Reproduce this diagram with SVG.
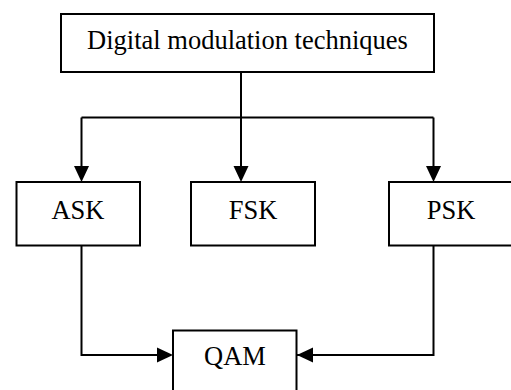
<svg xmlns="http://www.w3.org/2000/svg" width="511" height="390" viewBox="0 0 511 390">
  <style>
    .box { fill: #ffffff; stroke: #000000; stroke-width: 2; }
    .label { font-family: "Liberation Serif", "Times New Roman", serif; font-size: 26.5px; fill: #000000; text-anchor: middle; }
    .wire { fill: none; stroke: #000000; stroke-width: 2; }
    .head { fill: #000000; }
  </style>
  <rect width="511" height="390" fill="#ffffff"/>

  <g id="connectors">
    <!-- trunk from the top box and the distribution bar -->
    <path class="wire" d="M241 72 V117.5 M81.5 117.5 H433.5"/>
    <!-- drops to the three keying boxes -->
    <path class="wire" d="M81.5 117.5 V167 M241 117.5 V167 M433.5 117.5 V167"/>
    <polygon class="head" points="74,166 89,166 81.5,182"/>
    <polygon class="head" points="233.5,166 248.5,166 241,182"/>
    <polygon class="head" points="426,166 441,166 433.5,182"/>
    <!-- ASK and PSK feed QAM -->
    <path class="wire" d="M81.5 245 V355 H158 M433.5 245 V355 H297"/>
    <polygon class="head" points="157,347.5 157,362.5 173,355"/>
    <polygon class="head" points="313,347.5 313,362.5 297,355"/>
  </g>

  <g id="node-digital">
    <rect class="box" x="61" y="14" width="373" height="58"/>
    <text class="label" x="247.5" y="48.5">Digital modulation techniques</text>
  </g>
  <g id="node-ask">
    <rect class="box" x="16.5" y="182" width="123.5" height="63.5"/>
    <text class="label" x="78" y="219">ASK</text>
  </g>
  <g id="node-fsk">
    <rect class="box" x="191" y="182" width="124" height="63.5"/>
    <text class="label" x="253" y="219">FSK</text>
  </g>
  <g id="node-psk">
    <rect class="box" x="389" y="182" width="124" height="63.5"/>
    <text class="label" x="451" y="219">PSK</text>
  </g>
  <g id="node-qam">
    <rect class="box" x="173" y="330.5" width="123.5" height="64"/>
    <text class="label" x="235" y="365">QAM</text>
  </g>
</svg>
